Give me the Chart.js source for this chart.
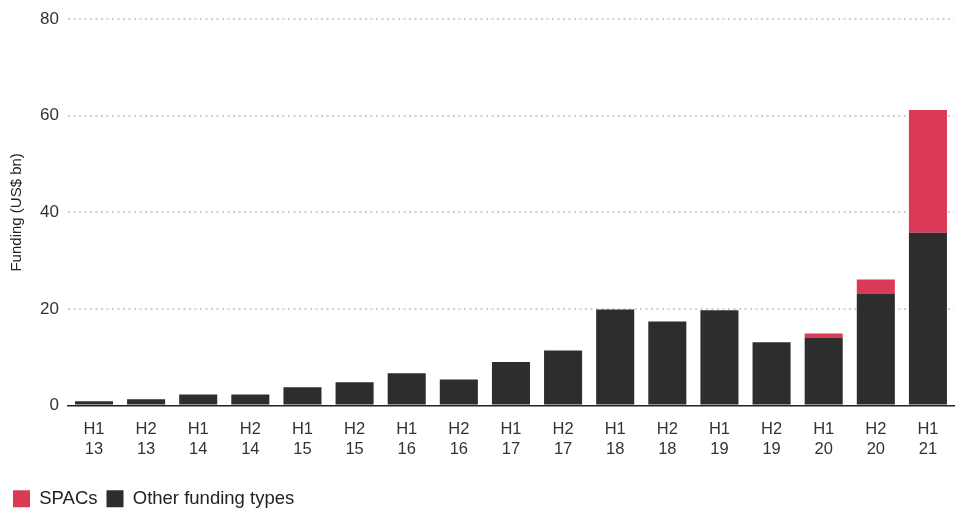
<!DOCTYPE html>
<html>
<head>
<meta charset="utf-8">
<script src="https://cdn.jsdelivr.net/npm/chart.js@4.4.0/dist/chart.umd.min.js"></script>
<style>
  html, body { margin: 0; padding: 0; background: #fff; }
  #wrap { width: 962px; height: 513px; position: relative; }
</style>
</head>
<body>
<div id="wrap"><canvas id="fundingChart"></canvas></div>
<script>
// Half-year periods
const periods = [
  ['H1','13'], ['H2','13'], ['H1','14'], ['H2','14'], ['H1','15'], ['H2','15'],
  ['H1','16'], ['H2','16'], ['H1','17'], ['H2','17'], ['H1','18'], ['H2','18'],
  ['H1','19'], ['H2','19'], ['H1','20'], ['H2','20'], ['H1','21']
];

// Funding, US$ bn
const otherFunding = [0.9, 1.3, 2.3, 2.3, 3.8, 4.8, 6.7, 5.4, 9.0, 11.4, 19.9, 17.4, 19.7, 13.1, 14.1, 23.2, 35.8];
const spacFunding  = [0, 0, 0, 0, 0, 0, 0, 0, 0, 0, 0, 0, 0, 0, 0.8, 2.9, 25.4];

const yTicks = [0, 20, 40, 60, 80];

const RED = '#db3a57';
const DARK = '#2d2d2d';

window.addEventListener('DOMContentLoaded', () => {
  const ctx = document.getElementById('fundingChart');
  Chart.defaults.font.family = '"Liberation Sans", Arial, Helvetica, sans-serif';
  Chart.defaults.color = '#333';

  new Chart(ctx.getContext('2d'), {
    type: 'bar',
    data: {
      labels: periods,
      datasets: [
        {
          label: 'Other funding types',
          data: otherFunding,
          backgroundColor: DARK,
          barPercentage: 0.73,
          categoryPercentage: 1.0
        },
        {
          label: 'SPACs',
          data: spacFunding,
          backgroundColor: RED,
          barPercentage: 0.73,
          categoryPercentage: 1.0
        }
      ]
    },
    options: {
      responsive: true,
      maintainAspectRatio: false,
      animation: false,
      layout: { padding: { left: 4, right: 8, top: 9, bottom: -5 } },
      plugins: {
        tooltip: { enabled: false },
        legend: {
          position: 'bottom',
          align: 'start',
          reverse: true,
          labels: {
            boxWidth: 17,
            boxHeight: 17,
            padding: 9,
            color: '#222',
            font: { size: 18.5 }
          }
        }
      },
      scales: {
        x: {
          stacked: true,
          afterFit: (axis) => { axis.height = 75; },
          grid: { display: false, drawTicks: false },
          border: { display: true, color: '#222', width: 1.5 },
          ticks: {
            color: '#333',
            font: { size: 16.5 },
            padding: 14,
            maxRotation: 0
          }
        },
        y: {
          stacked: true,
          min: 0,
          max: 80,
          afterBuildTicks: (axis) => {
            axis.ticks = yTicks.map(v => ({ value: v }));
          },
          title: {
            display: true,
            text: 'Funding (US$ bn)',
            color: '#222',
            font: { size: 15 },
            padding: { top: 4, bottom: 5 }
          },
          border: { display: false, dash: [2, 3.5] },
          grid: {
            color: (c) => c.tick && c.tick.value === 0 ? 'rgba(0,0,0,0)' : '#d0d0d0',
            lineWidth: 2,
            drawTicks: false
          },
          ticks: {
            color: '#333',
            font: { size: 17 },
            padding: 9
          }
        }
      }
    }
  });
});
</script>
</body>
</html>
